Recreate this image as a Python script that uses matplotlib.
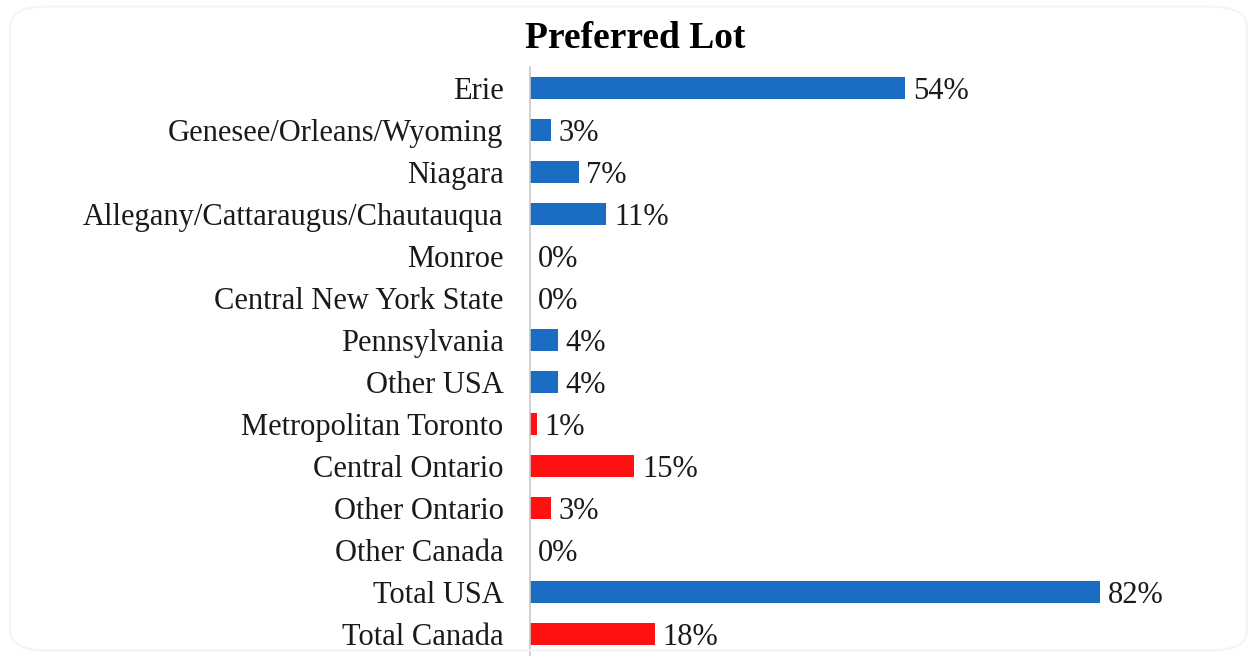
import matplotlib.pyplot as plt
from matplotlib.patches import FancyBboxPatch

# data
categories = ["Erie", "Genesee/Orleans/Wyoming", "Niagara",
              "Allegany/Cattaraugus/Chautauqua", "Monroe",
              "Central New York State", "Pennsylvania", "Other USA",
              "Metropolitan Toronto", "Central Ontario", "Other Ontario",
              "Other Canada", "Total USA", "Total Canada"]
values = [54, 3, 7, 11, 0, 0, 4, 4, 1, 15, 3, 0, 82, 18]
country = ["US", "US", "US", "US", "US", "US", "US", "US",
           "CA", "CA", "CA", "CA", "US", "CA"]

blue = "#1a6dc2"
red = "#ff1111"
colors = [blue if c == "US" else red for c in country]

plt.rcParams['font.family'] = ['Liberation Serif', 'DejaVu Serif']

fig = plt.figure(figsize=(12.57, 6.57), dpi=100)
ax = fig.add_axes([530 / 1257, 2 / 657, 695 / 1257, 588 / 657])

y = list(range(len(categories)))
ax.barh(y, values, height=0.52, color=colors)
ax.set_ylim(len(categories) - 0.5, -0.5)
ax.set_xlim(0, 100)
ax.set_yticks(y)
ax.set_yticklabels(categories, fontsize=22, color="#1a1a1a")
ax.set_xticks([])
ax.tick_params(axis="y", length=0, pad=19)

for i, v in enumerate(values):
    ax.text(v + 1.1, i, f"{v}%", va="center_baseline", ha="left",
            fontsize=22, color="#1a1a1a")

for s in ["top", "right", "bottom"]:
    ax.spines[s].set_visible(False)
ax.spines["left"].set_color("#c8c8c8")
ax.spines["left"].set_linewidth(1.2)

fig.text(635 / 1257, 1 - 38 / 657, "Preferred Lot", ha="center", va="center",
         fontsize=27, fontweight="bold", color="#000000")

frame = FancyBboxPatch((0.008, 0.01), 0.984, 0.98,
                       boxstyle="round,pad=0,rounding_size=0.03",
                       transform=fig.transFigure, fill=False,
                       edgecolor="#f4f4f4", linewidth=1.5)
fig.patches.append(frame)

fig.savefig("out.png", dpi=100)
